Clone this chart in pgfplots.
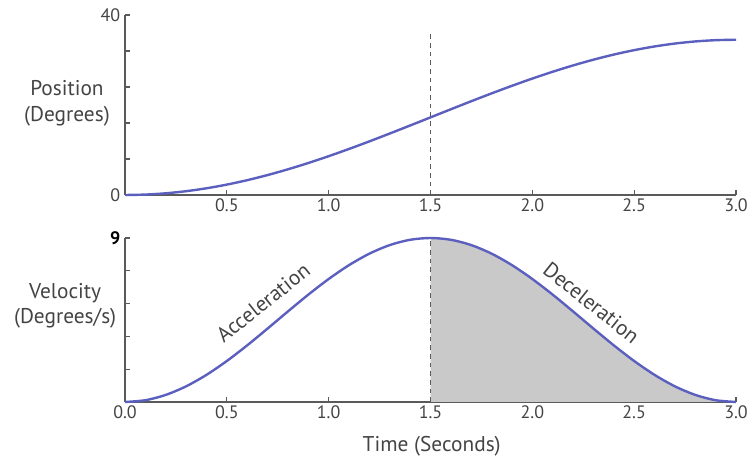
\documentclass[border=0pt]{standalone}
\usepackage{pgfplots}
\pgfplotsset{compat=1.18}
\usepackage{pgfplotstable}
\usepackage{fontspec}
\setmainfont{PT Sans}

\definecolor{curve}{HTML}{5B5FBE}
\definecolor{axisgray}{HTML}{5A5A5A}
\definecolor{txt}{HTML}{444444}
\definecolor{shade}{HTML}{C9C9C9}

% angular position (degrees) over time (s)
\pgfplotstableread{
t p
0.0 0.000
0.1 0.095
0.2 0.377
0.3 0.844
0.4 1.491
0.5 2.311
0.6 3.294
0.7 4.431
0.8 5.708
0.9 7.111
1.0 8.625
1.1 10.234
1.2 11.919
1.3 13.664
1.4 15.447
1.5 17.250
1.6 19.053
1.7 20.836
1.8 22.581
1.9 24.266
2.0 25.875
2.1 27.389
2.2 28.792
2.3 30.069
2.4 31.206
2.5 32.189
2.6 33.009
2.7 33.656
2.8 34.123
2.9 34.406
3.0 34.500
}\posdata

% angular velocity (degrees/s) over time (s)
\pgfplotstableread{
t v
0.0 0.000
0.1 0.098
0.2 0.389
0.3 0.859
0.4 1.489
0.5 2.250
0.6 3.109
0.7 4.030
0.8 4.970
0.9 5.891
1.0 6.750
1.1 7.511
1.2 8.141
1.3 8.611
1.4 8.902
1.5 9.000
1.6 8.902
1.7 8.611
1.8 8.141
1.9 7.511
2.0 6.750
2.1 5.891
2.2 4.970
2.3 4.030
2.4 3.109
2.5 2.250
2.6 1.489
2.7 0.859
2.8 0.389
2.9 0.098
3.0 0.000
}\veldata

\pgfplotsset{
  motion/.style={
    scale only axis,
    width=458.25pt,
    xmin=0, xmax=3,
    axis x line*=bottom,
    axis y line*=left,
    axis line style={axisgray, line width=1.4pt, -},
    tick align=inside,
    major tick length=4pt,
    tick style={axisgray, line width=0.9pt},
    tick label style={txt, font=\fontsize{13.5}{15}\selectfont},
    xticklabel style={yshift=1pt},
    clip=false,
  },
}
\tikzset{lbl/.style={txt, align=center, inner sep=0pt, font=\fontsize{16}{19}\selectfont}}

\begin{document}
\begin{tikzpicture}
\begin{axis}[motion, name=top,
  height=135pt,
  ymin=0, ymax=40,
  xtick={0.5,1,1.5,2,2.5,3},
  xticklabels={0.5,1.0,1.5,2.0,2.5,3.0},
  ytick={0,8,16,24,32,40},
  yticklabels={0,,,,,40},
]
  \addplot[axisgray, line width=1.1pt, dash pattern=on 3.5pt off 3pt] coordinates {(1.5,0) (1.5,36.5)};
  \addplot[curve, line width=1.8pt, smooth] table[x=t, y=p] {\posdata};
  \node[lbl] at (rel axis cs:-0.095,0.51) {Position\\(Degrees)};
\end{axis}

\begin{axis}[motion,
  at={(top.south west)}, yshift=-32.25pt, anchor=north west,
  height=123pt,
  ymin=0, ymax=9,
  xtick={0,0.5,1,1.5,2,2.5,3},
  xticklabels={0.0,0.5,1.0,1.5,2.0,2.5,3.0},
  ytick={0,1.8,3.6,5.4,7.2,9},
  yticklabels={,,,,,{\textbf{9}}},
  yticklabel style={black},
]
  \addplot[fill=shade, draw=none] table[x=t, y=v, restrict x to domain=1.5:3] {\veldata} \closedcycle;
  \addplot[axisgray, line width=1.1pt, dash pattern=on 3.5pt off 3pt] coordinates {(1.5,0) (1.5,9)};
  \addplot[curve, line width=1.8pt, smooth] table[x=t, y=v] {\veldata};
  \node[lbl] at (rel axis cs:-0.098,0.585) {Velocity\\(Degrees/s)};
  \node[lbl, rotate=38.5] at (axis cs:0.678,5.45) {Acceleration};
  \node[lbl, rotate=-38.5] at (axis cs:2.29,5.45) {Deceleration};
  \node[lbl] at (rel axis cs:0.502,-0.268) {Time (Seconds)};
\end{axis}

\pgfresetboundingbox
\path[use as bounding box] (top.south west) ++(-93.75pt,-201pt) rectangle ++(566.25pt,347.25pt);
\end{tikzpicture}
\end{document}
